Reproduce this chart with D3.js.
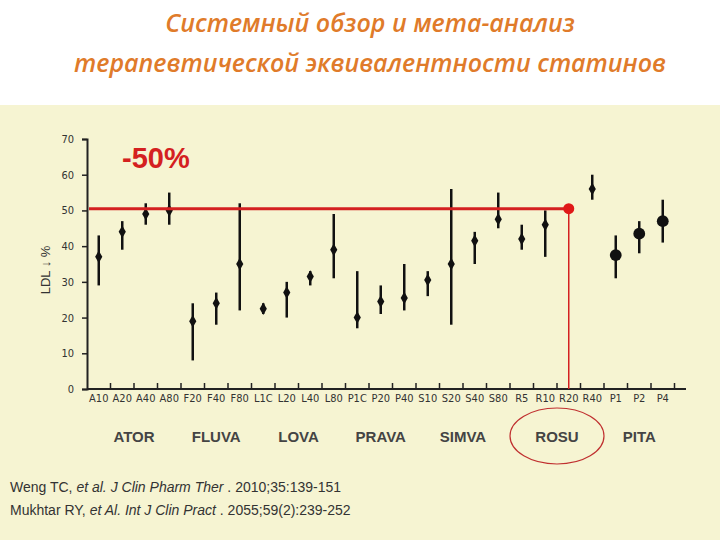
<!DOCTYPE html>
<html><head><meta charset="utf-8">
<script src="https://cdn.jsdelivr.net/npm/d3@7"></script>
<style>body{margin:0;background:#fff}svg{display:block}</style>
</head><body><svg id="c" width="720" height="540"></svg>
<script>
const cats = ["A10","A20","A40","A80","F20","F40","F80","L10","L20","L40","L80","P10","P20","P40","S10","S20","S40","S80","R5","R10","R20","R40","P1","P2","P4"];
const labels = ["A10","A20","A40","A80","F20","F40","F80","L1C","L20","L40","L80","P1C","P20","P40","S10","S20","S40","S80","R5","R10","R20","R40","P1","P2","P4"];
const means = [37,44,49,50,19,24,35,22.5,27,31.5,39,20,24.5,25.5,30.5,35,41.5,47.5,42,46,null,56,37.5,43.5,47];
const lows  = [29,39,46,46,8,18,22,21,20,29,31,17,21,22,26,18,35,45,39,37,null,53,31,38,41];
const highs = [43,47,52,55,24,27,52,24,30,33,49,33,29,35,33,56,44,55,46,50,null,60,43,47,53];
const groups = [["ATOR",0,3],["FLUVA",4,6],["LOVA",7,10],["PRAVA",11,13],["SIMVA",14,17],["ROSU",18,21],["PITA",22,24]];
const yTicks = [0,10,20,30,40,50,60,70];
const target = 50.5, targetCat = "R20";

const svg = d3.select("#c");
svg.append("rect").attr("x",0).attr("y",105).attr("width",720).attr("height",435).attr("fill","#f6f4d2");

const title = svg.append("text").attr("text-anchor","middle").attr("fill","#e07b2a")
  .attr("font-family","Open Sans").attr("font-style","italic").attr("font-weight",600).attr("font-size",25);
title.append("tspan").attr("x",370).attr("y",32).text("Системный обзор и мета-анализ");
title.append("tspan").attr("x",370).attr("y",72).text("терапевтической эквивалентности статинов");

const x = d3.scaleBand().domain(cats).range([87,674.5]).paddingInner(0).paddingOuter(0);
const y = d3.scaleLinear().domain([0,70]).range([389,139]);
const cx = d => x(d) + x.bandwidth()/2;

const ax = svg.append("g").attr("transform","translate(0,389)")
  .call(d3.axisBottom(x).tickFormat((d,i)=>labels[i]).tickSize(0));
ax.select(".domain").remove();
svg.append("line").attr("x1",87).attr("x2",686).attr("y1",389).attr("y2",389).attr("stroke","#222").attr("stroke-width",2);
ax.selectAll("text").attr("font-family","DejaVu Sans Condensed").attr("font-size",11).attr("fill","#333").attr("dy","0.9em");
svg.append("g").selectAll("line").data(cats).join("line")
  .attr("x1",d=>x(d)+x.bandwidth()).attr("x2",d=>x(d)+x.bandwidth())
  .attr("y1",383).attr("y2",389).attr("stroke","#222").attr("stroke-width",1.5);

const ay = svg.append("g").attr("transform","translate(87,0)")
  .call(d3.axisLeft(y).tickValues(yTicks).tickSize(5).tickPadding(8));
ay.select(".domain").attr("stroke","#222").attr("stroke-width",2);
ay.selectAll("line").attr("stroke","#222").attr("stroke-width",1.5);
ay.selectAll("text").attr("font-family","DejaVu Sans Condensed").attr("font-size",11).attr("fill","#333");
svg.append("text").attr("transform","translate(50,270) rotate(-90)").attr("text-anchor","middle")
  .attr("font-family","Liberation Sans").attr("font-size",13).attr("fill","#333").text("LDL ↓ %");

const pts = cats.map((c,i)=>({c,m:means[i],lo:lows[i],hi:highs[i]})).filter(d=>d.m!=null);
svg.append("g").selectAll("line").data(pts).join("line")
  .attr("x1",d=>cx(d.c)).attr("x2",d=>cx(d.c)).attr("y1",d=>y(d.lo)).attr("y2",d=>y(d.hi))
  .attr("stroke","#111").attr("stroke-width",2.5);
const big = c => c==="P1"||c==="P2"||c==="P4";
svg.append("g").selectAll("path").data(pts).join("path")
  .attr("transform",d=>`translate(${cx(d.c)},${y(d.m)})`)
  .attr("d",d=>d3.symbol(big(d.c)?d3.symbolCircle:d3.symbolDiamond, big(d.c)?110:45)())
  .attr("fill","#111");

svg.append("line").attr("x1",89).attr("x2",cx(targetCat)).attr("y1",y(target)).attr("y2",y(target))
  .attr("stroke","#d42020").attr("stroke-width",3);
svg.append("line").attr("x1",cx(targetCat)).attr("x2",cx(targetCat)).attr("y1",y(target)).attr("y2",389)
  .attr("stroke","#d42020").attr("stroke-width",1.5);
svg.append("circle").attr("cx",cx(targetCat)).attr("cy",y(target)).attr("r",5.5).attr("fill","#e01818");
svg.append("text").attr("x",122).attr("y",168).attr("font-family","Liberation Sans").attr("font-weight","bold")
  .attr("font-size",29).attr("fill","#d42020").text("-50%");

svg.append("g").selectAll("text").data(groups).join("text")
  .attr("x",d=>(cx(cats[d[1]])+cx(cats[d[2]]))/2).attr("y",442).attr("text-anchor","middle")
  .attr("font-family","Liberation Sans").attr("font-weight","bold").attr("font-size",15).attr("fill","#444")
  .text(d=>d[0]);
svg.append("ellipse").attr("cx",(cx("R5")+cx("R40"))/2).attr("cy",436).attr("rx",47).attr("ry",28)
  .attr("fill","none").attr("stroke","#c03030").attr("stroke-width",1.2);

const ref = svg.append("g").attr("font-family","Liberation Sans").attr("font-size",14).attr("fill","#333");
const r1 = ref.append("text").attr("x",10).attr("y",492);
r1.append("tspan").text("Weng TC, ");
r1.append("tspan").attr("font-style","italic").text("et al. J Clin Pharm Ther");
r1.append("tspan").text(" . 2010;35:139-151");
const r2 = ref.append("text").attr("x",10).attr("y",515);
r2.append("tspan").text("Mukhtar RY, ");
r2.append("tspan").attr("font-style","italic").text("et Al. Int J Clin Pract");
r2.append("tspan").text(" .  2055;59(2):239-252");
</script></body></html>
